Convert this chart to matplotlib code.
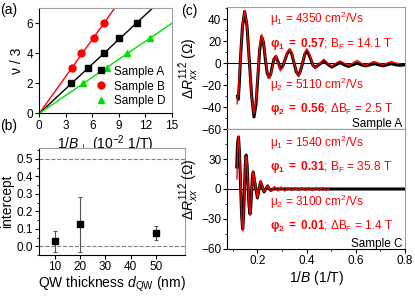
import matplotlib
matplotlib.use('Agg')
import matplotlib.pyplot as plt
import numpy as np
from matplotlib.ticker import MultipleLocator

plt.rcParams['font.family'] = ['Liberation Sans', 'DejaVu Sans']
plt.rcParams['mathtext.fontset'] = 'custom'
plt.rcParams['mathtext.rm'] = 'Liberation Sans'
plt.rcParams['mathtext.it'] = 'Liberation Sans:italic'
plt.rcParams['mathtext.bf'] = 'Liberation Sans:bold'
plt.rcParams['xtick.direction'] = 'out'
plt.rcParams['ytick.direction'] = 'out'
plt.rcParams['xtick.major.size'] = 3
plt.rcParams['ytick.major.size'] = 3
plt.rcParams['xtick.minor.size'] = 1.5
plt.rcParams['ytick.minor.size'] = 1.5
plt.rcParams['axes.linewidth'] = 0.8

# ---- (a) filling factor vs 1/B_perp
invB_A = [3.59, 5.55, 7.36, 9.06, 11.03]
nu_A = [2, 3, 4, 5, 6]
invB_B = [3.67, 4.72, 6.16, 7.36]
nu_B = [3, 4, 5, 6]
invB_D = [4.98, 7.64, 9.90, 12.54]
nu_D = [2, 3, 4, 5]

# ---- (b) intercept vs QW thickness
d_qw = [10, 20, 50]
intercept = [0.03, 0.125, 0.077]
intercept_err = [0.06, 0.158, 0.04]

# ---- (c) oscillations, sample A
xA_fit = [0.117, 0.122, 0.1305, 0.139, 0.148, 0.1575, 0.167, 0.1765, 0.186,
          0.194, 0.2015, 0.209, 0.217, 0.2245, 0.232, 0.2395, 0.247,
          0.254, 0.261, 0.268, 0.275, 0.284, 0.293, 0.3025, 0.312, 0.3215, 0.331,
          0.340, 0.349, 0.358, 0.367, 0.375, 0.3835, 0.392, 0.400,
          0.409, 0.4175, 0.426, 0.435, 0.4525, 0.470, 0.486, 0.502, 0.519, 0.536,
          0.553, 0.570, 0.588, 0.605, 0.622, 0.640, 0.657, 0.675, 0.692, 0.710,
          0.727, 0.745, 0.762, 0.780]
yA_fit = [-37, -27, 4, 35, 48, 34, 1, -32, -46,
          -35, -10, 15, 26, 20, 6, -8, -14,
          -11, -3.5, 4, 7, 0, -7, -4, 3, 10, 13,
          9, 0.5, -8, -12, -8, 0.5, 9, 13,
          10, 4, -2, -5, -0.5, 3.5, 0, -3, 0, 2,
          0, -2, 0, 2.5, 0, -2, 0, 1.5, 0, -1.5,
          0, 1.5, 0, -0.5]
xA_dat = [0.119, 0.122, 0.126, 0.1305, 0.139, 0.148, 0.1575, 0.167, 0.1765, 0.186,
          0.194, 0.2015, 0.209, 0.217, 0.2245, 0.232, 0.2395, 0.247,
          0.254, 0.261, 0.268, 0.275, 0.284, 0.293, 0.3025, 0.312, 0.3215, 0.331,
          0.340, 0.349, 0.358, 0.367, 0.375, 0.3835, 0.392, 0.400,
          0.409, 0.4175, 0.426, 0.435, 0.4525, 0.470, 0.486, 0.502, 0.519, 0.536,
          0.553, 0.570, 0.588, 0.605, 0.622, 0.640, 0.657, 0.675, 0.692, 0.710,
          0.727, 0.745, 0.762, 0.780, 0.800]
yA_dat = [-30, -33, -20, 2, 33, 47, 34, 2, -30, -49,
          -38, -13, 12, 24, 19, 4, -9, -13,
          -10, -2, 4, 6, 1, -5, -3, 3, 9, 12,
          8, 0, -8, -11, -7, 0, 8, 11,
          8, 3, -2, -4, -1, 2, -1, -3.5, -1.5, 0.5,
          -1.5, -3, -1.5, 0, -1.5, -2.5, -1.5, -0.5, -1.5, -2.5,
          -1.5, -0.5, -1.5, -2, -1.5]

# ---- (c) oscillations, sample C
xC_fit = [0.117, 0.1195, 0.123, 0.127, 0.1315, 0.136, 0.140, 0.1435, 0.147, 0.1505,
          0.154, 0.158, 0.162, 0.166, 0.170, 0.173, 0.1765, 0.1795, 0.183, 0.1915,
          0.200, 0.2065, 0.213, 0.220, 0.227, 0.234, 0.241, 0.248, 0.255, 0.262,
          0.269, 0.276, 0.283, 0.297, 0.311, 0.325, 0.339, 0.353, 0.367, 0.381,
          0.395, 0.409, 0.423, 0.437, 0.451, 0.465, 0.479, 0.490]
yC_fit = [10, 42, 53, 39, 5, -28, -42, -31, -4, 22,
          33, 24, 3, -17, -26, -19, -4, 12, 18, 4,
          -9.5, 0, 8.5, 3, -3, 0.5, 4, 0, -2.5, 0,
          2.5, 0, -2, 2, -2, 1.5, -1.5, 1.5, -1.5, 1.5,
          -1.5, 1.5, -1.5, 1.5, -1.5, 1.5, -1.5, 0]
xC_dat = [0.116, 0.119, 0.123, 0.127, 0.1315, 0.136, 0.140, 0.1435, 0.147, 0.1505,
          0.154, 0.158, 0.162, 0.166, 0.170, 0.173, 0.1765, 0.1795, 0.183, 0.1915,
          0.200, 0.2065, 0.213, 0.220, 0.227, 0.234, 0.241, 0.248, 0.255, 0.262,
          0.30, 0.35, 0.40, 0.45, 0.50, 0.55, 0.60, 0.65, 0.70, 0.75, 0.80]
yC_dat = [22, 45, 52, 37, 3, -27, -40, -29, -2, 23,
          34, 24, 2, -17, -25, -18, -3, 12, 17, 3,
          -9, 0, 7, 2, -3, 0, 3, 0, -1.5, 0,
          0, 0, 0, 0, 0, 0, 0, 0, 0, 0, 0]

RED = '#ff0000'
GREEN = '#00e000'
SPINE_GRAY = '#a0a0a0'


def gray_spines(ax):
    ax.spines['top'].set_color(SPINE_GRAY)
    ax.spines['right'].set_color(SPINE_GRAY)


fig = plt.figure(figsize=(4.15, 2.96), dpi=100)

# (a)
ax1 = fig.add_axes([0.0947, 0.617, 0.319, 0.355])
for xs, ys, col, mk, lab in [(invB_A, nu_A, 'black', 's', 'Sample A'),
                              (invB_B, nu_B, RED, 'o', 'Sample B'),
                              (invB_D, nu_D, GREEN, '^', 'Sample D')]:
    xs = np.array(xs)
    ys = np.array(ys)
    slope = np.sum(xs * ys) / np.sum(xs * xs)
    xx = np.array([0, 15])
    ax1.plot(xx, slope * xx, color=col, lw=1)
    ax1.plot(xs, ys, mk, color=col, ms=5, ls='none', label=lab)
ax1.set_xlim(0, 15)
ax1.set_ylim(0, 7)
ax1.set_xticks([0, 3, 6, 9, 12, 15])
ax1.set_yticks([0, 2, 4, 6])
ax1.tick_params(labelsize=8.5, pad=1.5)
ax1.set_xlabel(r'1/$B_\perp$ (10$^{-2}$ 1/T)', fontsize=10, labelpad=1)
ax1.set_ylabel('ν / 3', fontsize=10, labelpad=2)
ax1.legend(loc='lower right', frameon=False, fontsize=8.5, handlelength=1,
           handletextpad=0.6, borderaxespad=0.1, labelspacing=0.25)
gray_spines(ax1)

# (b)
ax2 = fig.add_axes([0.0947, 0.1385, 0.351, 0.3605])
ax2.axhline(0, ls='--', color='gray', lw=0.8)
ax2.axhline(0.5, ls='--', color='gray', lw=0.8)
ax2.errorbar(d_qw, intercept, yerr=intercept_err, fmt='s', color='black', ms=5,
             ecolor='#555555', elinewidth=0.8, capsize=1.5, capthick=0.8)
ax2.set_xlim(3.8, 61.6)
ax2.set_ylim(-0.05, 0.56)
ax2.set_xticks([10, 20, 30, 40, 50])
ax2.set_yticks([0.0, 0.1, 0.2, 0.3, 0.4, 0.5])
ax2.yaxis.set_major_formatter(matplotlib.ticker.FormatStrFormatter('%.1f'))
ax2.yaxis.set_minor_locator(MultipleLocator(0.05))
ax2.tick_params(labelsize=8.5, pad=1.5)
ax2.set_xlabel(r'QW thickness $d_\mathrm{QW}$ (nm)', fontsize=10, labelpad=1)
ax2.set_ylabel('intercept', fontsize=10, labelpad=2)
gray_spines(ax2)

# (c) top
ax3 = fig.add_axes([0.548, 0.564, 0.428, 0.412])
ax3.axhline(0, color='black', lw=0.7)
ax3.plot(xA_dat, yA_dat, color='black', lw=2.2)
ax3.plot(xA_fit, yA_fit, color=RED, lw=1)
ax3.set_xlim(0.078, 0.8)
ax3.set_ylim(-60, 51)
ax3.set_yticks([-60, -40, -20, 0, 20, 40])
ax3.yaxis.set_minor_locator(MultipleLocator(10))
ax3.xaxis.set_major_locator(MultipleLocator(0.2))
ax3.xaxis.set_minor_locator(MultipleLocator(0.1))
ax3.tick_params(labelsize=8.5, pad=1.5, labelbottom=False)
ax3.set_ylabel(r'$\Delta R_{xx}^{11\bar{2}}$ ($\Omega$)', fontsize=10, labelpad=1)
gray_spines(ax3)
ax3.text(0.24, 0.87, 'μ$_1$ = 4350 cm$^2$/Vs', transform=ax3.transAxes, color=RED, fontsize=8.5)
ax3.text(0.24, 0.67, r'$\mathbf{φ_1\ =\ 0.57}$; B$_\mathrm{F}$ = 14.1 T', transform=ax3.transAxes, color=RED, fontsize=8.5)
ax3.text(0.24, 0.33, 'μ$_2$ = 5110 cm$^2$/Vs', transform=ax3.transAxes, color=RED, fontsize=8.5)
ax3.text(0.24, 0.14, r'$\mathbf{φ_2\ =\ 0.56}$; ΔB$_\mathrm{F}$ = 2.5 T', transform=ax3.transAxes, color=RED, fontsize=8.5)
ax3.text(0.985, 0.02, 'Sample A', transform=ax3.transAxes, ha='right', fontsize=8.5)

# (c) bottom
ax4 = fig.add_axes([0.548, 0.159, 0.428, 0.405])
ax4.axhline(0, color='black', lw=0.7)
ax4.plot(xC_dat, yC_dat, color='black', lw=2.2)
ax4.plot(xC_fit, yC_fit, color=RED, lw=1)
ax4.set_xlim(0.078, 0.8)
ax4.set_ylim(-60, 60)
ax4.set_yticks([-60, -30, 0, 30])
ax4.yaxis.set_minor_locator(MultipleLocator(15))
ax4.xaxis.set_major_locator(MultipleLocator(0.2))
ax4.xaxis.set_minor_locator(MultipleLocator(0.1))
ax4.tick_params(labelsize=8.5, pad=1.5)
ax4.set_xlabel(r'1/$B$ (1/T)', fontsize=10, labelpad=1)
ax4.set_ylabel(r'$\Delta R_{xx}^{11\bar{2}}$ ($\Omega$)', fontsize=10, labelpad=1)
gray_spines(ax4)
ax4.text(0.24, 0.85, 'μ$_1$ = 1540 cm$^2$/Vs', transform=ax4.transAxes, color=RED, fontsize=8.5)
ax4.text(0.24, 0.66, r'$\mathbf{φ_1\ =\ 0.31}$; B$_\mathrm{F}$ = 35.8 T', transform=ax4.transAxes, color=RED, fontsize=8.5)
ax4.text(0.24, 0.36, 'μ$_2$ = 3100 cm$^2$/Vs', transform=ax4.transAxes, color=RED, fontsize=8.5)
ax4.text(0.24, 0.17, r'$\mathbf{φ_2\ =\ 0.01}$; ΔB$_\mathrm{F}$ = 1.4 T', transform=ax4.transAxes, color=RED, fontsize=8.5)
ax4.text(0.985, 0.02, 'Sample C', transform=ax4.transAxes, ha='right', fontsize=8.5)

fig.text(0.0, 0.99, '(a)', fontsize=10, va='top')
fig.text(0.0, 0.598, '(b)', fontsize=10, va='top')
fig.text(0.437, 0.985, '(c)', fontsize=10, va='top')

fig.savefig('out.png', dpi=100)
